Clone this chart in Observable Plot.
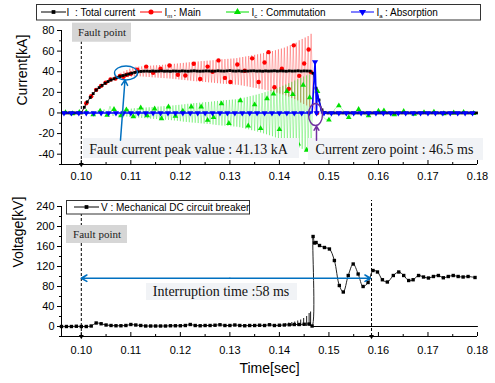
<!DOCTYPE html>
<html><head><meta charset="utf-8">
<script src="https://cdn.jsdelivr.net/npm/d3@7"></script>
<script src="https://cdn.jsdelivr.net/npm/@observablehq/plot@0.6"></script>
<style>
body{margin:0;background:#fff;}
#chart{position:relative;width:495px;height:383px;background:#fff;}
#chart svg{display:block;}
</style></head><body><div id="chart"></div>
<script>
// ---------- axes / ticks ----------
const timeDomain = [0.096, 0.18];
const currentDomain = [-50, 80];
const voltageDomain = [-20, 240];
const timeTicks = [0.10, 0.11, 0.12, 0.13, 0.14, 0.15, 0.16, 0.17, 0.18];
const timeMinor = [0.105, 0.115, 0.125, 0.135, 0.145, 0.155, 0.165, 0.175];
const currentTicks = [-40, -20, 0, 20, 40, 60, 80];
const currentMinor = [-50, -30, -10, 10, 30, 50, 70];
const voltageTicks = [0, 40, 80, 120, 160, 200, 240];
const voltageMinor = [-20, 20, 60, 100, 140, 180, 220];

// ---------- series: total current I (kA), sampled every 0.6 ms ----------
const totalStart = 0.0964, totalStep = 0.0006;
const totalCurrent = [
  0,0,0,0,0,0,0,
  5.5,10.8,15.0,18.8,22.2,24.6,26.8,28.8,30.5,32.0,33.2,34.4,35.4,36.3,37.0,37.8,38.6,39.3,39.9,40.3,
  40.5,40.6,40.4,40.7,40.5,40.6,40.8,40.5,40.6,40.4,
  40.7,40.6,40.5,40.8,40.6,40.5,40.7,40.9,40.6,40.5,
  40.6,40.8,40.7,40.5,40.6,40.9,40.7,40.6,40.8,41.1,
  40.7,40.6,40.8,40.5,40.7,40.6,40.8,40.9,40.6,40.7,
  40.5,40.8,40.6,40.7,40.9,40.6,40.8,40.7,40.5,40.8,
  40.6,40.7,40.9,40.6,40.8,40.7,40.6,
  38.5,24.0,12.5,3.0,0.4,
  0,0,0,0,0,0,0,0,0,0,0,0,0,0,0,0,0,0,0,0,0,0,0,0,0,0,0,0,0,0,0,0,0,0,0,0,0,0,0,0,0,0,0,0,0,0,0,0,0,0,0
];

// ---------- main current Im (kA) ----------
const mainRiseT = [0.0960, 0.1000, 0.1010, 0.1020, 0.1030, 0.1040, 0.1050, 0.1060, 0.1070];
const mainRise  = [0, 0, 9.4, 16.2, 22.4, 26.3, 29.3, 32.0, 33.8];
const mainOscStart = 0.1080, mainOscStep = 0.0003;
const mainOsc = [
  39.0,33.4,40.3,34.1,41.6,34.7,43.0,35.2,43.9,35.5,
  44.8,35.7,45.0,35.5,45.2,35.3,45.4,35.1,45.6,34.9,
  45.9,34.6,46.1,34.4,46.3,34.2,46.5,34.0,46.7,33.8,
  46.9,33.6,47.1,33.4,47.4,33.1,47.7,32.8,48.0,32.5,
  48.3,32.2,48.6,31.9,48.9,31.6,49.2,31.3,49.6,30.9,
  49.8,30.7,50.0,30.4,50.3,30.2,50.5,30.0,50.7,29.7,
  50.9,29.5,51.2,29.2,51.5,28.9,51.8,28.6,52.1,28.3,
  52.3,28.2,52.5,27.9,52.7,27.7,52.9,27.5,53.2,27.3,
  53.8,26.8,54.3,26.3,54.8,25.8,55.3,25.2,55.9,24.6,
  56.4,24.2,56.9,23.5,57.5,23.0,58.1,22.4,58.7,21.8,
  59.3,21.2,60.1,20.4,60.9,19.6,61.7,18.8,62.5,18.0,
  63.4,17.0,64.6,15.8,65.8,14.6,67.0,13.4,68.2,12.2,
  70.5,10.1,71.8,8.7,73.2,7.3,74.6,5.9,76.8
];
const mainTailT = [0.1467, 0.1470, 0.1474, 0.1800];
const mainTail  = [22, 6, 0, 0];
const mainMarkT = [0.1010,0.1020,0.1030,0.1040,0.1049,0.1059,0.1069,0.1078,0.1085,0.1092,
  0.1100,0.1113,0.1131,0.1145,0.1160,0.1178,0.1195,0.1210,0.1227,0.1240,
  0.1255,0.1265,0.1277,0.1290,0.1301,0.1315,0.1330,0.1345,0.1358,0.1370,
  0.1378,0.1390,0.1405,0.1419,0.1429,0.1440,0.1450,0.1459,0.1464,0.1476];
const mainMark = [9.4,16.2,22.4,26.3,29.3,32.5,33.5,36.0,35.2,37.0,
  38.0,42.0,45.0,39.0,43.0,46.0,37.0,36.4,47.8,33.0,
  45.0,40.0,51.0,34.0,30.0,47.0,41.0,53.0,30.0,49.0,
  59.0,25.0,43.0,23.4,65.6,36.0,48.0,61.5,39.6,0];

// ---------- commutation current Ic (kA) ----------
const commPreStart = 0.0962, commPreStep = 0.0006;
const commPre = [0.8,-0.9,1.1,-0.7,1.0,-1.2,0.9,-1.0,1.2,-1.1,2.0,-1.8,2.6,-2.2,3.5,-2.8,6.5,-3.0,3.2,-2.9];
const commOscStart = 0.1080, commOscStep = 0.0003;
const commOsc = [
  -2.8,3.0,-3.2,3.5,-3.5,3.9,-3.9,4.2,-4.2,4.6,
  -4.4,4.7,-4.6,4.9,-4.8,5.1,-5.0,5.3,-5.2,5.5,
  -5.5,5.8,-5.7,6.0,-5.9,6.2,-6.1,6.4,-6.3,6.6,
  -6.5,6.8,-6.7,7.0,-7.0,7.3,-7.3,7.6,-7.6,7.9,
  -8.0,8.2,-8.4,8.5,-8.7,8.9,-9.0,9.2,-9.3,9.5,
  -9.5,9.7,-9.8,10.0,-10.1,10.2,-10.3,10.5,-10.6,10.7,
  -10.8,11.0,-11.2,11.4,-11.6,11.7,-11.9,12.0,-12.2,12.3,
  -12.3,12.5,-12.6,12.7,-12.9,13.0,-13.1,13.2,-13.3,13.5,
  -13.8,14.2,-14.5,14.9,-15.3,15.6,-15.9,16.3,-16.7,17.0,
  -17.3,17.7,-18.1,18.5,-18.9,19.3,-19.8,20.2,-20.7,21.1,
  -21.6,22.0,-22.6,23.1,-23.7,24.2,-24.8,25.3,-25.9,26.4,
  -27.0,27.6,-28.3,28.9,-29.6,30.2,-30.9,31.5,-32.2,32.8,
  -33.4,34.1,-34.8,35.4,-36.1,36.5,-37.0,37.4,-37.8
];
const commTailT = [0.1467,0.1472,0.1477,0.1482,0.1487,0.1493,0.1500,0.1506,0.1512,0.1520,
  0.1528,0.1534,0.1540,0.1548,0.1554,0.1560,0.1568,0.1574,0.1580,0.1590,
  0.1600,0.1611,0.1622,0.1632,0.1641,0.1651,0.1662,0.1672,0.1682,0.1692,
  0.1702,0.1712,0.1722,0.1732,0.1742,0.1752,0.1762,0.1772,0.1782,0.1792,0.1800];
const commTail = [15,22,21,5,-3,-6,-6.8,-2,4,7.1,
  3,-2,-4.3,-1,2,3.5,0.5,-2,-2.6,0,
  1.8,2.2,0,-1.5,0.5,1.6,-0.5,-1,1.2,0.5,
  -0.8,1.0,0.3,-0.6,0.8,0.2,-0.5,0.6,0.1,-0.4,0.3];
const commMarkT = [0.0968,0.0982,0.0996,0.1010,0.1024,0.1038,0.1052,0.1066,0.1080,0.1091,
  0.1105,0.1120,0.1133,0.1148,0.1162,0.1176,0.1190,0.1205,0.1222,0.1242,
  0.1255,0.1267,0.1283,0.1298,0.1321,0.1337,0.1350,0.1362,0.1375,0.1388,
  0.1400,0.1415,0.1427,0.1438,0.1448,0.1455,0.1461,0.1477,0.1500,0.1520,
  0.1540,0.1560,0.1580,0.1600,0.1611,0.1632,0.1651,0.1672,0.1692,0.1712,
  0.1732,0.1752,0.1772,0.1792];
const commMark = [0.5,-0.6,0.7,1.0,-1.5,2.0,-2.2,3.5,-2.5,3.0,
  -3.5,5.0,-2.6,4.0,-5.5,6.0,-3.0,2.0,6.0,6.0,
  -7.0,-4.3,9.0,-10.0,12.0,-12.4,8.0,-15.0,14.0,18.5,
  -16.0,21.0,18.0,-30.0,27.0,-36.0,15.0,21.0,-6.8,7.1,
  -4.3,3.5,-2.6,1.8,2.2,-1.5,1.6,-1.0,0.5,1.0,
  -0.6,0.2,0.6,-0.4];

// ---------- absorption current Ia (kA) ----------
const absorbStart = 0.0965, absorbStep = 0.0015;
const absorbGrid = [0,0,0,0,0,0,0,0,0,0,0,0,0,0,0,0,0,0,0,0,0,0,0,0,0,0,0,0,
  0,0,0,0,0,0,0,0,0,0,0,0,0,0,0,0,0,0,0,0,0,0,0,0,0,0,0,0];
const absorbSpikeT = [0.1466, 0.1472, 0.1476, 0.1481, 0.1486];
const absorbSpike  = [0, 49.4, 20, 10, 0];

// ---------- breaker voltage V (kV) ----------
const voltStart = 0.096, voltStep = 0.001;
const voltPre = [0,0,0,0.5,0,0,1,7,5.5,3,
  2,1.5,1.5,2,4,3,2,1,1,1,
  1,1,1.5,1.5,1.5,2,4,2,1.5,2,
  2,2.5,3.5,2,2,3,2,1.5,2,2,
  2.5,2,3.5,2,2.5,3,3.5,4,4,4.5,5];
const voltSpikeT = [0.1413,0.1419,0.1425,0.1431,0.1437,0.1443,0.1449,0.1455,0.1460,0.1463];
const voltSpikePeak = [6,7,8,9,11,13,16,20,26,29];
const voltPostT = [0.1466,0.1468,0.1471,0.1474,0.1481,0.1491,0.1501,0.1511,0.1521,0.1529,
  0.1539,0.1549,0.1559,0.1569,0.1579,0.1589,0.1598,0.1608,0.1618,0.1630,
  0.1641,0.1651,0.1661,0.1670,0.1681,0.1691,0.1701,0.1711,0.1721,0.1731,
  0.1741,0.1751,0.1761,0.1771,0.1781,0.1795];
const voltPost = [1,180,167,168,162,158,155,132,82,69,
  102,125,105,80,88,112,109,93.5,89,102,
  109,102,92,93.5,102,99,97,100,102,97.5,
  100,102,100,99,100,98];
const voltZeroT = [0.1465, 0.1800];
const voltZero = [0, 0];

// ---------- annotation values ----------
const faultTime = 0.100;
const interruptEnd = 0.1586;
const peakPoint = {t: 0.10903, v: 38.8};
const zeroPoint = {t: 0.14729, v: -1.5};

// ---------- helpers ----------
const seq = (start, step, vals) => vals.map((v, i) => ({t: +(start + i * step).toFixed(5), v}));
const zip = (ts, vs) => ts.map((t, i) => ({t, v: vs[i]}));

const totalLine = seq(totalStart, totalStep, totalCurrent);
const mainLine = [...zip(mainRiseT, mainRise), ...seq(mainOscStart, mainOscStep, mainOsc), ...zip(mainTailT, mainTail)];
const mainMarks = zip(mainMarkT, mainMark);
const commLine = [...seq(commPreStart, commPreStep, commPre), ...seq(commOscStart, commOscStep, commOsc), ...zip(commTailT, commTail)];
const commMarks = zip(commMarkT, commMark);
const absorbGridPts = seq(absorbStart, absorbStep, absorbGrid);
const absorbSpikePts = zip(absorbSpikeT, absorbSpike);
const absorbLine = [...absorbGridPts, ...absorbSpikePts].sort((a, b) => a.t - b.t);
const absorbMarks = [...absorbGridPts, ...absorbSpikePts.filter(d => d.v === d3.max(absorbSpike))];
const voltLine = [...seq(voltStart, voltStep, voltPre), ...zip(voltPostT, voltPost)];
const voltSpikes = zip(voltSpikeT, voltSpikePeak);
const voltZeroLine = zip(voltZeroT, voltZero);

const SANS = "'Liberation Sans', Arial, sans-serif";
const SERIF = "'Liberation Serif', 'Times New Roman', serif";
const RED = "#ff0000", GREEN = "#00e000", BLUE = "#0000ff", ABLUE = "#0070c0", PURPLE = "#7030a0";
const NOTE_BG = "#f1f3f6", TAG_BG = "#d6d6d6";

function ellipseSymbol(rx, ry) {
  const k = 0.5523;
  return {draw(ctx) {
    ctx.moveTo(rx, 0);
    ctx.bezierCurveTo(rx, ry * k, rx * k, ry, 0, ry);
    ctx.bezierCurveTo(-rx * k, ry, -rx, ry * k, -rx, 0);
    ctx.bezierCurveTo(-rx, -ry * k, -rx * k, -ry, 0, -ry);
    ctx.bezierCurveTo(rx * k, -ry, rx, -ry * k, rx, 0);
    ctx.closePath();
  }};
}
const fmt2 = d3.format(".2f");
const style = {fontFamily: SANS, fontSize: "11px", color: "#000", background: "transparent", overflow: "visible"};

function xAxes(anchorPad) {
  return [
    Plot.axisX({ticks: timeTicks, tickSize: 4, dy: -4, tickFormat: () => "", label: null}),
    Plot.axisX({ticks: timeMinor, tickSize: 2, dy: -2, tickFormat: () => "", label: null}),
    Plot.axisX({ticks: timeTicks, tickSize: 0, tickPadding: anchorPad, tickFormat: fmt2, fontSize: 11, label: null})
  ];
}

// ---------- top panel ----------
const topPlot = Plot.plot({
  width: 495, height: 190, marginLeft: 61, marginRight: 18, marginTop: 30, marginBottom: 26,
  x: {domain: timeDomain}, y: {domain: currentDomain},
  style,
  marks: [
    Plot.ruleX([faultTime], {y1: currentDomain[0], y2: currentDomain[1], stroke: "#000", strokeDasharray: "3,2"}),
    Plot.line(mainLine, {x: "t", y: "v", stroke: RED, strokeWidth: 0.6, strokeOpacity: 0.5}),
    Plot.line(commLine, {x: "t", y: "v", stroke: GREEN, strokeWidth: 0.6, strokeOpacity: 0.5}),
    Plot.dot(mainMarks, {x: "t", y: "v", r: 2.2, fill: RED}),
    Plot.dot(commMarks, {x: "t", y: "v", r: 2.1, symbol: "triangle", fill: GREEN}),
    Plot.line(totalLine, {x: "t", y: "v", stroke: "#000", strokeWidth: 0.8}),
    Plot.dot(totalLine, {x: "t", y: "v", r: 1.6, symbol: "square", fill: "#000"}),
    Plot.line(absorbLine, {x: "t", y: "v", stroke: BLUE, strokeWidth: 1.6}),
    Plot.dot(absorbMarks, {x: "t", y: "v", r: 2.3, symbol: "triangle", rotate: 180, fill: BLUE}),
    Plot.dot([{t: faultTime, v: currentDomain[0]}], {x: "t", y: "v", r: 1.8, symbol: "triangle", rotate: 180, fill: "#000"}),
    // fault point tag
    Plot.rect([{x1: 0.09822, x2: 0.11013, y1: 68.6, y2: 87.1}], {x1: "x1", x2: "x2", y1: "y1", y2: "y2", fill: TAG_BG}),
    Plot.text(["Fault point"], {x: 0.10418, y: 77.9, fontFamily: SERIF, fontSize: 11, fill: "#222"}),
    // peak value note
    Plot.rect([{x1: 0.10044, x2: 0.14406, y1: -44.2, y2: -24.8}], {x1: "x1", x2: "x2", y1: "y1", y2: "y2", fill: NOTE_BG}),
    Plot.text(["Fault current peak value : 41.13 kA"], {x: 0.12165, y: -35, fontFamily: SERIF, fontSize: 14, fill: "#111"}),
    Plot.dot([peakPoint], {x: "t", y: "v", symbol: ellipseSymbol(11.5, 7), fill: "none", stroke: ABLUE, strokeWidth: 1.4}),
    Plot.arrow([{x1: 0.10791, y1: -26.5, x2: 0.10882, y2: 32}], {x1: "x1", y1: "y1", x2: "x2", y2: "y2", stroke: ABLUE, strokeWidth: 1.5, headLength: 6}),
    // current zero note
    Plot.rect([{x1: 0.14588, x2: 0.18122, y1: -46, y2: -24.8}], {x1: "x1", x2: "x2", y1: "y1", y2: "y2", fill: NOTE_BG}),
    Plot.text(["Current zero point : 46.5 ms"], {x: 0.16324, y: -35.6, fontFamily: SERIF, fontSize: 14, fill: "#111"}),
    Plot.dot([zeroPoint], {x: "t", y: "v", symbol: ellipseSymbol(7, 11), fill: "none", stroke: PURPLE, strokeWidth: 1.4}),
    Plot.arrow([{x1: 0.14749, y1: -26.5, x2: 0.14749, y2: -12.8}], {x1: "x1", y1: "y1", x2: "x2", y2: "y2", stroke: PURPLE, strokeWidth: 1.5, headLength: 5}),
    // axes
    Plot.ruleX([timeDomain[0]], {stroke: "#000"}),
    Plot.ruleY([currentDomain[0]], {stroke: "#000"}),
    Plot.axisY({ticks: currentTicks, tickSize: 4, tickPadding: 3, tickFormat: d => String(d), fontSize: 11, label: null}),
    Plot.axisY({ticks: currentMinor, tickSize: 2, tickFormat: () => "", label: null}),
    ...xAxes(8),
    Plot.text(["Current[kA]"], {frameAnchor: "left", dx: -39, dy: 8, rotate: -90, fontSize: 14, fontFamily: SANS})
  ]
});

// ---------- bottom panel ----------
const bottomPlot = Plot.plot({
  width: 495, height: 193, marginLeft: 61, marginRight: 18, marginTop: 16, marginBottom: 47,
  x: {domain: timeDomain}, y: {domain: voltageDomain},
  style,
  marks: [
    Plot.ruleX([faultTime], {y1: voltageDomain[0], y2: 224, stroke: "#000", strokeDasharray: "3,2"}),
    Plot.ruleX([interruptEnd], {y1: voltageDomain[0], y2: 252, stroke: "#000", strokeDasharray: "3,2"}),
    Plot.dot([{t: faultTime, v: voltageDomain[0]}, {t: interruptEnd, v: voltageDomain[0]}], {x: "t", y: "v", r: 1.8, symbol: "triangle", rotate: 180, fill: "#000"}),
    Plot.line(voltZeroLine, {x: "t", y: "v", stroke: "#000", strokeWidth: 1}),
    Plot.ruleX(voltSpikes, {x: "t", y1: 0, y2: "v", stroke: "#000", strokeWidth: 0.9}),
    Plot.line(voltLine, {x: "t", y: "v", stroke: "#222", strokeWidth: 1, curve: "catmull-rom"}),
    Plot.dot(voltLine, {x: "t", y: "v", r: 1.9, symbol: "square", fill: "#000"}),
    // fault point tag
    Plot.rect([{x1: 0.09701, x2: 0.10933, y1: 166, y2: 202}], {x1: "x1", x2: "x2", y1: "y1", y2: "y2", fill: TAG_BG}),
    Plot.text(["Fault point"], {x: 0.10317, y: 184, fontFamily: SERIF, fontSize: 11, fill: "#222"}),
    // interruption time
    Plot.arrow([{x1: 0.13, x2: faultTime}, {x1: 0.13, x2: 0.1584}], {x1: "x1", x2: "x2", y1: 96.6, y2: 96.6, stroke: ABLUE, strokeWidth: 1.6, headLength: 6}),
    Plot.rect([{x1: 0.11316, x2: 0.14365, y1: 52, y2: 86}], {x1: "x1", x2: "x2", y1: "y1", y2: "y2", fill: NOTE_BG}),
    Plot.text(["Interruption time :58 ms"], {x: 0.12822, y: 70, fontFamily: SERIF, fontSize: 14, fill: "#111"}),
    // axes
    Plot.ruleX([timeDomain[0]], {stroke: "#000"}),
    Plot.ruleY([voltageDomain[0]], {stroke: "#000"}),
    Plot.axisY({ticks: voltageTicks, tickSize: 4, tickPadding: 3, tickFormat: d => String(d), fontSize: 11, label: null}),
    Plot.axisY({ticks: voltageMinor, tickSize: 2, tickFormat: () => "", label: null}),
    ...xAxes(10),
    Plot.text(["Voltage[kV]"], {frameAnchor: "left", dx: -43, dy: -4, rotate: -90, fontSize: 14, fontFamily: SANS}),
    Plot.text(["Time[sec]"], {frameAnchor: "bottom", dy: 36, fontSize: 14, fontFamily: SANS})
  ]
});

const chart = document.getElementById("chart");
chart.append(topPlot, bottomPlot);

// ---------- legends ----------
function addLegend(svg, box, items) {
  const g = d3.select(svg).append("g").attr("font-family", SANS).attr("font-size", 10).attr("text-anchor", "start");
  g.append("rect").attr("x", box.x).attr("y", box.y).attr("width", box.w).attr("height", box.h)
    .attr("fill", "#fff").attr("stroke", "#333").attr("stroke-width", 1);
  for (const it of items) {
    g.append("line").attr("x1", it.x1).attr("x2", it.x2).attr("y1", box.cy).attr("y2", box.cy)
      .attr("stroke", it.color).attr("stroke-width", 1);
    g.append("path").attr("transform", `translate(${(it.x1 + it.x2) / 2},${box.cy}) rotate(${it.rot || 0})`)
      .attr("d", d3.symbol(it.symbol, it.size)()).attr("fill", it.color);
    const t = g.append("text").attr("x", it.tx).attr("y", box.cy + 3.6).attr("fill", "#000").attr("text-anchor", "start");
    t.append("tspan").text(it.main);
    if (it.sub) t.append("tspan").attr("font-size", 6).attr("dy", 2).text(it.sub);
    if (it.label) t.append("tspan").attr("x", it.rest).attr("dy", it.sub ? -2 : 0).text(it.label);
  }
}
addLegend(topPlot, {x: 36.5, y: 4.5, w: 444, h: 15.5, cy: 12}, [
  {x1: 41, x2: 66, color: "#000", symbol: d3.symbolSquare, size: 14, tx: 66.5, main: "I", sub: "", rest: 75, label: ": Total current"},
  {x1: 140, x2: 162, color: RED, symbol: d3.symbolCircle, size: 20, tx: 164.5, main: "I", sub: "m", rest: 173.5, label: ": Main"},
  {x1: 226, x2: 249, color: GREEN, symbol: d3.symbolTriangle, size: 22, tx: 251.5, main: "I", sub: "c", rest: 260.5, label: ": Commutation"},
  {x1: 351, x2: 374, color: BLUE, symbol: d3.symbolTriangle, size: 22, rot: 180, tx: 376.5, main: "I", sub: "a", rest: 385, label: ": Absorption"}
]);
addLegend(bottomPlot, {x: 66.5, y: 10.5, w: 183, h: 13.5, cy: 17}, [
  {x1: 74, x2: 99, color: "#000", symbol: d3.symbolSquare, size: 14, tx: 101, main: "V : Mechanical DC circuit breaker"}
]);
</script></body></html>
